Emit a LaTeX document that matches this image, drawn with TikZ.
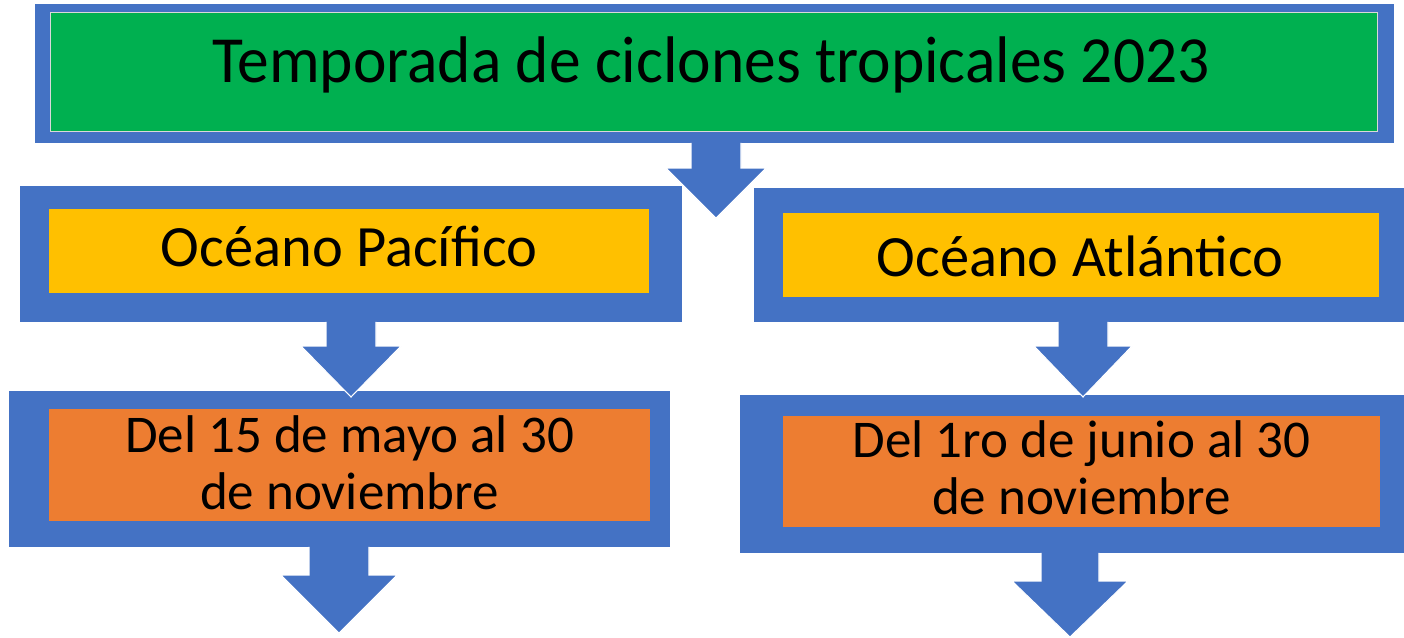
\documentclass[tikz,border=0pt]{standalone}
\usepackage{fontspec}
\setmainfont{Carlito}
\newfontfamily\titlefont[FakeStretch=0.963]{Carlito}
\usetikzlibrary{calc}

\definecolor{frameblue}{HTML}{4472C4}
\definecolor{titlegreen}{HTML}{00B050}
\definecolor{oceanyellow}{HTML}{FFC000}
\definecolor{dateorange}{HTML}{ED7D31}

\tikzset{
  frame/.style={rectangle, fill=frameblue, inner sep=0pt, outer sep=0pt},
  panel/.style={rectangle, inner sep=0pt, outer sep=0pt},
  flow/.style={fill=frameblue, draw=white, line width=0.6pt},
  titletext/.style={anchor=base, inner sep=0pt, font=\titlefont\fontsize{37.5}{45}\selectfont},
  oceantext/.style={anchor=base, inner sep=0pt, font=\fontsize{33.3}{40}\selectfont},
  datetext/.style={anchor=base, inner sep=0pt, font=\fontsize{30.2}{36}\selectfont}
}

% block arrow: from node, tip, half shaft, half head, head length
\newcommand{\blockarrow}[5]{%
  \filldraw[flow] ($(#2 |- #1.south)+(-#3,0)$) -- ($(#2)+(-#3,-#5)$) -- ($(#2)+(-#4,-#5)$)
    -- (#2) -- ($(#2)+(#4,-#5)$) -- ($(#2)+(#3,-#5)$) -- ($(#2 |- #1.south)+(#3,0)$);
}

\begin{document}
\begin{tikzpicture}[x=0.02cm, y=-0.02cm]
      \useasboundingbox[fill=white] (0,0) rectangle (1404,637);

      % Draw the title box
      \node[frame, minimum width=27.18cm, minimum height=2.78cm] (topframe) at (714.5,73.5) {};
      \node[panel, fill=titlegreen, draw=black!15, minimum width=26.54cm, minimum height=2.38cm] (titlepanel) at (713.5,71.5) {};
      \node[titletext] (title) at (711,82) {Temporada de ciclones tropicales 2023};

      % Draw the ocean boxes
      \node[frame, minimum width=13.24cm, minimum height=2.72cm] (pacframe) at (351,254) {};
      \node[panel, fill=oceanyellow, minimum width=12cm, minimum height=1.68cm] (pacpanel) at (349,251) {};
      \node[oceantext] (pac) at (349,266) {Océano Pacífico};

      \node[frame, minimum width=13cm, minimum height=2.68cm] (atlframe) at (1079,255) {};
      \node[panel, fill=oceanyellow, minimum width=11.92cm, minimum height=1.68cm] (atlpanel) at (1081,255) {};
      \node[oceantext] (atl) at (1080,276) {Océano Atlántico};

      % Draw the date boxes
      \node[frame, minimum width=13.22cm, minimum height=3.12cm] (pacdateframe) at (339.5,469) {};
      \node[panel, fill=dateorange, minimum width=12.02cm, minimum height=2.24cm] (pacdatepanel) at (349.5,465) {};
      \node[datetext] (pacdate1) at (349.5,452) {Del 15 de mayo al 30};
      \node[datetext] (pacdate2) at (349.5,509) {de noviembre};

      \node[frame, minimum width=13.28cm, minimum height=3.16cm] (atldateframe) at (1072,474) {};
      \node[panel, fill=dateorange, minimum width=11.94cm, minimum height=2.22cm] (atldatepanel) at (1081.5,471.5) {};
      \node[datetext] (atldate1) at (1081.5,457) {Del 1ro de junio al 30};
      \node[datetext] (atldate2) at (1081.5,514) {de noviembre};

      % Draw the block arrows
      \coordinate (tiptop) at (716,218);
      \coordinate (tippac) at (351,397);
      \coordinate (tipatl) at (1083,397);
      \coordinate (tippacdate) at (339,633);
      \coordinate (tipatldate) at (1070,637);

      \blockarrow{topframe}{tiptop}{25}{50}{50}
      \blockarrow{pacframe}{tippac}{25}{50}{51}
      \blockarrow{atlframe}{tipatl}{25}{49}{51}
      \blockarrow{pacdateframe}{tippacdate}{30}{58}{58}
      \blockarrow{atldateframe}{tipatldate}{29}{58}{56}

      \end{tikzpicture}
\end{document}
